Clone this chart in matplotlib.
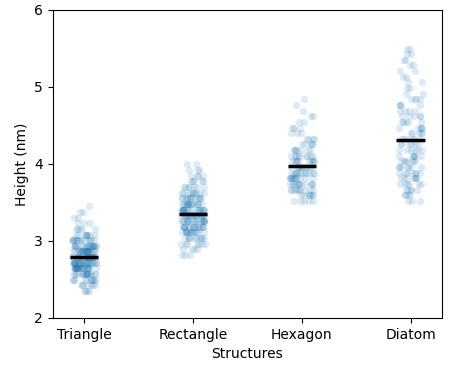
import numpy as np
import pandas as pd
import matplotlib
matplotlib.use("Agg")
import matplotlib.pyplot as plt
import seaborn as sns

categories = ["Triangle", "Rectangle", "Hexagon", "Diatom"]

# Height levels (nm) and how many structures were observed at each level
tri_start, rect_start, hex_start, dia_start = 2.35, 2.82, 3.52, 3.52
level_step = 0.0733
tri_counts = [4, 7, 11, 18, 25, 28, 28, 25, 20, 14, 9, 5, 3, 2, 2, 1]
rect_counts = [3, 4, 7, 10, 14, 17, 19, 20, 19, 16, 13, 10, 7, 5, 4, 3, 2]
hex_counts = [5, 7, 10, 12, 12, 12, 11, 10, 9, 7, 5, 4, 3, 3, 2, 2, 1, 1, 1]
dia_counts = [3, 4, 5, 6, 7, 7, 7, 7, 6, 6, 6, 6, 5, 5, 5, 5, 4, 4, 4, 2,
              2, 2, 2, 2, 2, 2, 2, 2]

starts = [tri_start, rect_start, hex_start, dia_start]
counts = [tri_counts, rect_counts, hex_counts, dia_counts]

rows = []
for cat, s, cnt in zip(categories, starts, counts):
    levels = s + level_step * np.arange(len(cnt))
    vals = np.repeat(levels, cnt)
    for v in vals:
        rows.append((cat, v))
df = pd.DataFrame(rows, columns=["Structures", "Height (nm)"])

fig, ax = plt.subplots(figsize=(4.52, 3.68), dpi=100)
fig.subplots_adjust(left=0.117, right=0.977, top=0.973, bottom=0.136)

np.random.seed(0)
sns.stripplot(data=df, x="Structures", y="Height (nm)", order=categories,
              alpha=0.14, size=5.3, jitter=0.11, color="#1f77b4", linewidth=0, ax=ax)

means = df.groupby("Structures")["Height (nm)"].mean().reindex(categories)
for i, m in enumerate(means):
    ax.hlines(m, i - 0.13, i + 0.13, color="black", lw=2.5, zorder=5)

ax.set_ylim(2, 6)
ax.set_yticks([2, 3, 4, 5, 6])
ax.set_xlim(-0.287, 3.285)
ax.set_xlabel("Structures")
ax.set_ylabel("Height (nm)")

fig.savefig("out.png", dpi=100)
